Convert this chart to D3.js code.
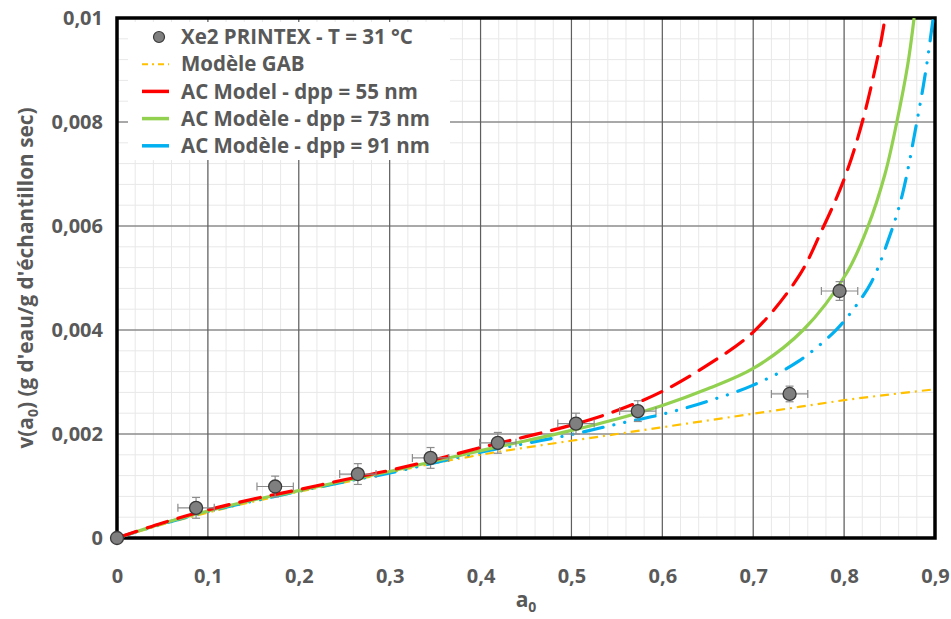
<!DOCTYPE html>
<html><head><meta charset="utf-8">
<script src="https://cdn.jsdelivr.net/npm/d3@7"></script>
<style>
body{margin:0;background:#fff;}
text{font-family:"Open Sans",sans-serif;font-weight:bold;fill:#595959;}
</style></head>
<body><svg id="c" width="951" height="619"></svg>
<script>
// ---- data ----
const expA   = [0, 0.087, 0.174, 0.265, 0.345, 0.419, 0.505, 0.573, 0.740, 0.795];
const expV   = [0, 0.00058, 0.00099, 0.00123, 0.00154, 0.00183, 0.00220, 0.00244, 0.00277, 0.00475];
const expAErr= [0, 0.02, 0.02, 0.02, 0.02, 0.02, 0.02, 0.02, 0.02, 0.02];
const expVErr= [0, 0.0002, 0.0002, 0.0002, 0.0002, 0.0002, 0.0002, 0.0002, 0.00015, 0.00018];

const gabA = [0, 0.05, 0.1, 0.15, 0.2, 0.25, 0.3, 0.35, 0.4, 0.45, 0.5, 0.55, 0.6, 0.65, 0.7, 0.75, 0.8, 0.85, 0.9];
const gabV = [0, 0.00026, 0.00049, 0.00070, 0.00089, 0.00107, 0.00126, 0.00144, 0.00160, 0.00174, 0.00187, 0.00200, 0.00213, 0.00226, 0.00239, 0.00252, 0.00265, 0.00276, 0.00286];

const ac55A = [0, 0.05, 0.1, 0.15, 0.2, 0.25, 0.3, 0.35, 0.4, 0.45, 0.5, 0.55, 0.6, 0.65, 0.7, 0.75, 0.775, 0.8, 0.82, 0.84, 0.845];
const ac55V = [0, 0.00029, 0.00054, 0.00075, 0.00093, 0.00112, 0.00130, 0.00151, 0.00174, 0.00195, 0.00217, 0.00245, 0.00282, 0.00333, 0.00396, 0.00503, 0.0059, 0.0069, 0.0080, 0.0095, 0.0100];

const ac73A = [0, 0.05, 0.1, 0.15, 0.2, 0.25, 0.3, 0.35, 0.4, 0.45, 0.5, 0.55, 0.6, 0.65, 0.7, 0.755, 0.803, 0.826, 0.845, 0.858, 0.87, 0.877];
const ac73V = [0, 0.00028, 0.00052, 0.00073, 0.00091, 0.00110, 0.00128, 0.00148, 0.00168, 0.00187, 0.00207, 0.00229, 0.00255, 0.00287, 0.00326, 0.00400, 0.00510, 0.00598, 0.0070, 0.0080, 0.0091, 0.0100];

const ac91A = [0, 0.05, 0.1, 0.15, 0.2, 0.25, 0.3, 0.35, 0.4, 0.45, 0.5, 0.55, 0.6, 0.65, 0.7, 0.75, 0.79, 0.809, 0.83, 0.85, 0.864, 0.88, 0.89, 0.898];
const ac91V = [0, 0.00027, 0.00051, 0.00071, 0.00090, 0.00108, 0.00125, 0.00145, 0.00165, 0.00182, 0.00199, 0.00219, 0.00238, 0.00263, 0.00294, 0.00340, 0.00398, 0.00437, 0.00492, 0.0058, 0.0066, 0.0080, 0.0090, 0.0100];

const xTicks = [0, 0.1, 0.2, 0.3, 0.4, 0.5, 0.6, 0.7, 0.8, 0.9];
const yTicks = [0, 0.002, 0.004, 0.006, 0.008, 0.01];
const legendLabels = ["Xe2 PRINTEX - T = 31 °C", "Modèle GAB", "AC Model - dpp = 55 nm", "AC Modèle - dpp = 73 nm", "AC Modèle - dpp = 91 nm"];

// ---- chart ----
const W = 951, H = 619;
const m = {l:117, r:16, t:18, b:81};
const svg = d3.select("#c");
const x = d3.scaleLinear().domain([0, 0.9]).range([m.l, W - m.r]);
const y = d3.scaleLinear().domain([0, 0.01]).range([H - m.b, m.t]);
const fmt = d => d === 0 ? "0" : String(+d.toFixed(3)).replace(".", ",");

const g = svg.append("g");
const xMinor = d3.range(0, 0.9001, 0.02);
const yMinor = d3.range(0, 0.01001, 0.0004);
g.selectAll(".xm").data(xMinor).join("line")
  .attr("x1", d => x(d)).attr("x2", d => x(d)).attr("y1", y(0)).attr("y2", y(0.01))
  .attr("stroke", "#e8e8e8").attr("stroke-width", 1);
g.selectAll(".ym").data(yMinor).join("line")
  .attr("y1", d => y(d)).attr("y2", d => y(d)).attr("x1", x(0)).attr("x2", x(0.9))
  .attr("stroke", "#e8e8e8").attr("stroke-width", 1);
g.selectAll(".xM").data(xTicks).join("line")
  .attr("x1", d => x(d)).attr("x2", d => x(d)).attr("y1", y(0)).attr("y2", y(0.01))
  .attr("stroke", "#5e5e5e").attr("stroke-width", 1.2);
g.selectAll(".yM").data(yTicks).join("line")
  .attr("y1", d => y(d)).attr("y2", d => y(d)).attr("x1", x(0)).attr("x2", x(0.9))
  .attr("stroke", "#5e5e5e").attr("stroke-width", 1.2);

const xAxis = svg.append("g").attr("transform", `translate(0,${y(0)})`)
  .call(d3.axisBottom(x).tickValues(xTicks).tickFormat(fmt).tickSize(0).tickPadding(31));
const yAxis = svg.append("g").attr("transform", `translate(${x(0)},0)`)
  .call(d3.axisLeft(y).tickValues(yTicks).tickFormat(fmt).tickSize(0).tickPadding(14));
[xAxis, yAxis].forEach(a => {
  a.select(".domain").remove();
  a.selectAll("text").style("font-size", "20px").style("font-family", "Open Sans").style("font-weight", "bold").attr("fill", "#595959");
});

svg.append("rect").attr("x", x(0)).attr("y", y(0.01)).attr("width", x(0.9) - x(0)).attr("height", y(0) - y(0.01))
  .attr("fill", "none").attr("stroke", "#000").attr("stroke-width", 3.5);

svg.append("clipPath").attr("id", "clp").append("rect")
  .attr("x", x(0)).attr("y", y(0.01)).attr("width", x(0.9) - x(0)).attr("height", y(0) - y(0.01));

const line = d3.line().x(d => x(d[0])).y(d => y(d[1])).curve(d3.curveCatmullRom.alpha(0.5));
const series = [
  {a: gabA, v: gabV, color: "#FFC000", w: 2.2, dash: "9,5,2,5", cap: "butt"},
  {a: ac91A, v: ac91V, color: "#00B0F0", w: 3.2, dash: "20,11,0.1,11,0.1,11", cap: "round"},
  {a: ac73A, v: ac73V, color: "#92D050", w: 3.2, dash: null, cap: "butt"},
  {a: ac55A, v: ac55V, color: "#FF0000", w: 3.2, dash: "21,11", cap: "round"}
];
const cg = svg.append("g").attr("clip-path", "url(#clp)");
series.forEach(s => {
  cg.append("path").datum(d3.zip(s.a, s.v)).attr("d", line)
    .attr("fill", "none").attr("stroke", s.color).attr("stroke-width", s.w)
    .attr("stroke-dasharray", s.dash).attr("stroke-linecap", s.cap);
});

const pts = d3.range(expA.length).map(i => ({a: expA[i], v: expV[i], ea: expAErr[i], ev: expVErr[i]}));
const eg = svg.append("g").attr("stroke", "#8c8c8c").attr("stroke-width", 1.2);
pts.filter(p => p.ea > 0).forEach(p => {
  eg.append("line").attr("x1", x(p.a - p.ea)).attr("x2", x(p.a + p.ea)).attr("y1", y(p.v)).attr("y2", y(p.v));
  eg.append("line").attr("x1", x(p.a - p.ea)).attr("x2", x(p.a - p.ea)).attr("y1", y(p.v) - 4).attr("y2", y(p.v) + 4);
  eg.append("line").attr("x1", x(p.a + p.ea)).attr("x2", x(p.a + p.ea)).attr("y1", y(p.v) - 4).attr("y2", y(p.v) + 4);
  eg.append("line").attr("y1", y(p.v - p.ev)).attr("y2", y(p.v + p.ev)).attr("x1", x(p.a)).attr("x2", x(p.a));
  eg.append("line").attr("y1", y(p.v - p.ev)).attr("y2", y(p.v - p.ev)).attr("x1", x(p.a) - 4).attr("x2", x(p.a) + 4);
  eg.append("line").attr("y1", y(p.v + p.ev)).attr("y2", y(p.v + p.ev)).attr("x1", x(p.a) - 4).attr("x2", x(p.a) + 4);
});
svg.append("g").selectAll("circle").data(pts).join("circle")
  .attr("cx", d => x(d.a)).attr("cy", d => y(d.v)).attr("r", 6.5)
  .attr("fill", "#7f7f7f").attr("stroke", "#3a3a3a").attr("stroke-width", 1.3);

const lg = svg.append("g");
lg.append("rect").attr("x", 128).attr("y", 22).attr("width", 322).attr("height", 138).attr("fill", "#fff");
const rowY = i => 37 + i * 27.2;
const legStyles = [null, series[0], series[3], series[2], series[1]];
legendLabels.forEach((t, i) => {
  const cy = rowY(i);
  if (i === 0) {
    lg.append("circle").attr("cx", 159).attr("cy", cy).attr("r", 5.5).attr("fill", "#7f7f7f").attr("stroke", "#3a3a3a").attr("stroke-width", 1.2);
  } else {
    const s = legStyles[i];
    lg.append("line").attr("x1", 142).attr("x2", 169).attr("y1", cy).attr("y2", cy)
      .attr("stroke", s.color).attr("stroke-width", i === 1 ? 2 : 3.5)
      .attr("stroke-dasharray", i === 1 ? "6,4,2,4" : null);
  }
  lg.append("text").attr("x", 181).attr("y", cy).attr("dy", "0.35em").style("font-size", "20.5px").text(t);
});

const xt = svg.append("text").attr("x", (x(0) + x(0.9)) / 2).attr("y", 607).attr("text-anchor", "middle").style("font-size", "21px");
xt.append("tspan").text("a");
xt.append("tspan").attr("dy", 5).style("font-size", "14px").text("0");

const yt = svg.append("text").attr("transform", `translate(33,${(y(0) + y(0.01)) / 2}) rotate(-90)`).attr("text-anchor", "middle").style("font-size", "20.8px");
yt.append("tspan").text("v(a");
yt.append("tspan").attr("dy", 5).style("font-size", "14px").text("0");
yt.append("tspan").attr("dy", -5).text(") (g d'eau/g d'échantillon sec)");
</script></body></html>
